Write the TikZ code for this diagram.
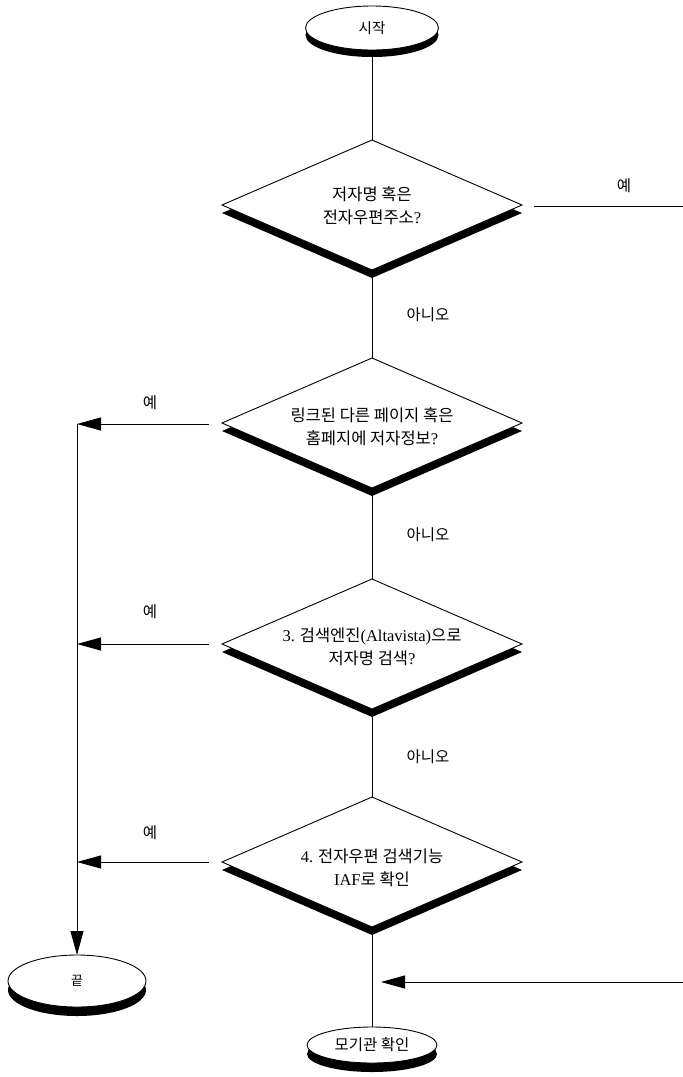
\documentclass[tikz,border=0pt]{standalone}
\usepackage{fontspec}
\setmainfont{Liberation Serif}
\newfontfamily\kr{Noto Sans CJK KR}
\usetikzlibrary{shapes.geometric,arrows.meta,shadows}
\newcommand\lat[1]{{\rmfamily #1}}
\begin{document}
\begin{tikzpicture}[x=1pt,y=-1pt,
  dia/.style={diamond,draw,fill=white,line width=0.9pt,minimum width=300pt,minimum height=130pt,
    inner sep=0pt,outer sep=0pt,
    drop shadow={shadow xshift=0pt,shadow yshift=-8pt,fill=black,opacity=1}},
  term/.style={ellipse,draw,fill=white,line width=0.9pt,inner sep=0pt,outer sep=0pt,
    drop shadow={shadow xshift=0pt,shadow yshift=-#1,fill=black,opacity=1}},
  txt/.style={align=center,inner sep=0pt,font=\kr\fontsize{16.5}{23}\selectfont},
  tt/.style={font=\kr\fontsize{15.5}{18}\selectfont},
  lab/.style={font=\kr\fontsize{15.5}{18}\selectfont},
  conn/.style={line width=1pt},
  arr/.style={line width=1pt,-{Triangle[length=24pt,width=13pt]}}]

\useasboundingbox (0,0) rectangle (683,1077);

% terminals
\node[term=7pt,minimum width=133pt,minimum height=44pt,font=\kr\fontsize{14.5}{16}\selectfont] (start) at (372,28) {시작};
\node[term=9pt,minimum width=138pt,minimum height=52pt,font=\kr\fontsize{13}{16}\selectfont] (end1) at (77,981) {끝};
\node[term=9pt,minimum width=130pt,minimum height=36pt,tt] (end2) at (372,1045) {모기관 확인};

% decisions
\node[dia] (d1) at (372,205) {};
\node[dia] (d2) at (372,423) {};
\node[dia] (d3) at (372,644) {};
\node[dia] (d4) at (372,862) {};

\node[txt] (t1) at (372,206) {저자명 혹은\\전자우편주소\lat{?}};
\node[txt] (t2) at (372,427) {링크된 다른 페이지 혹은\\홈페지에 저자정보\lat{?}};
\node[txt] (t3) at (372,647) {\lat{3.} 검색엔진\lat{(Altavista)}으로\\저자명 검색\lat{?}};
\node[txt] (t4) at (372,868) {\lat{4.} 전자우편 검색기능\\\lat{IAF}로 확인};

% free ends
\coordinate (r1) at (683,206);
\coordinate (j2) at (77,424);
\coordinate (r2) at (683,982);

% main flow
\draw[conn] (start.south) -- (d1.north);
\draw[conn] (d1.south) -- (d2.north);
\draw[conn] (d2.south) -- (d3.north);
\draw[conn] (d3.south) -- (d4.north);
\draw[conn] (d4.south) -- (end2.north);

% yes branches
\draw[conn] ([xshift=12pt]d1.east |- r1) -- (r1);
\draw[arr] ([xshift=-13pt]d2.west |- j2) -- (j2);
\draw[arr] (j2) -- (end1.north);
\draw[arr] ([xshift=-13pt]d3.west) -- (d3.west -| j2);
\draw[arr] ([xshift=-13pt]d4.west) -- (d4.west -| j2);
\draw[arr] (r2) -- ([xshift=9pt]d4.south |- r2);

% labels
\node[lab] (y1) at (624,186) {예};
\node[lab] (y2) at (150,403) {예};
\node[lab] (y3) at (150,612) {예};
\node[lab] (y4) at (150,833) {예};
\node[lab] (n1) at (428,315) {아니오};
\node[lab] (n2) at (428,535) {아니오};
\node[lab] (n3) at (428,757) {아니오};
\end{tikzpicture}
\end{document}
